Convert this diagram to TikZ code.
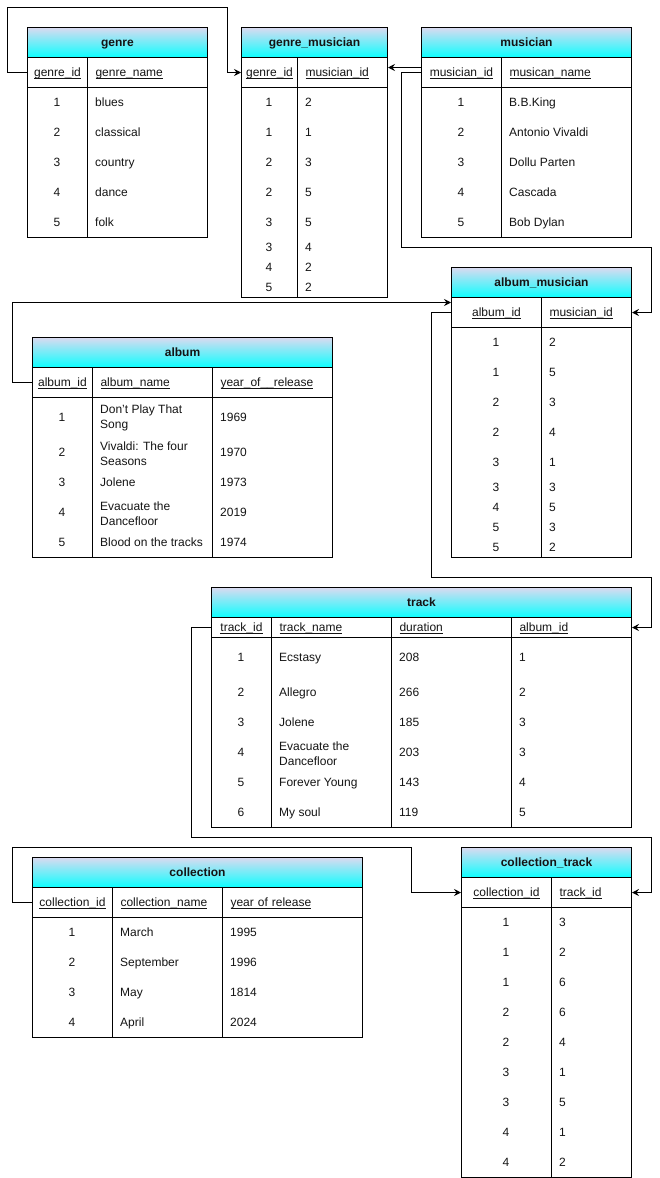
\documentclass[tikz,border=0pt]{standalone}
\usepackage{fontspec}
\setmainfont{Liberation Sans}
\usetikzlibrary{arrows.meta}
\definecolor{lav}{RGB}{218,218,240}
\definecolor{cyn}{RGB}{10,255,255}
\definecolor{txt}{RGB}{20,20,20}
\newcommand\ulname[1]{\setbox0\hbox{#1}\rlap{\rule[-1.8pt]{\wd0}{0.8pt}}\box0}
\tikzset{
 every node/.style={font=\fontsize{12}{14.4}\selectfont, text=txt},
 tline/.style={line width=1pt, draw=black},
 hdr/.style={draw=black, line width=1pt, top color=lav, bottom color=cyn, anchor=north west, minimum height=30pt, inner sep=0pt, font=\fontsize{12}{14.4}\selectfont\bfseries, text height=10.86pt, text depth=2.54pt},
 cname/.style={draw=black, line width=1pt, anchor=north west, inner ysep=0pt, text height=10.86pt, text depth=2.54pt},
 ctext/.style={anchor=center, text height=10.86pt, text depth=2.54pt},
 ltext/.style={anchor=west, text height=10.86pt, text depth=2.54pt, inner sep=0pt},
 mtext/.style={anchor=west, align=left, inner sep=0pt, yshift=-1.5pt, font=\fontsize{12}{15}\selectfont},
 conn/.style={line width=1pt, draw=black, -{Stealth[length=7pt,width=7pt,inset=2.5pt]}},
}
\newcommand\cnc[6]{\node[cname, inner xsep=2pt, minimum width=#4pt, minimum height=#5pt, align=center] (#1) at (#2,#3) {\ulname{#6}};}
\newcommand\cnl[6]{\pgfmathsetmacro\cntw{#4-16}\node[cname, inner xsep=8pt, minimum width=#4pt, minimum height=#5pt, text width=\cntw pt, align=left] (#1) at (#2,#3) {\ulname{#6}};}

\begin{document}
\begin{tikzpicture}[x=1pt,y=-1pt]
\useasboundingbox (0,0) rectangle (660,1178);

% ---------- genre ----------
\node[hdr, minimum width=180pt] (genre) at (27,27) {genre};
\cnc{g-c1}{27}{57}{60}{30}{genre\_id}
\cnl{g-c2}{87}{57}{120}{30}{genre\_name}
\draw[tline] (27,87) rectangle (207,237);
\draw[tline] (87,87) -- (87,237);
\foreach \id/\nm [count=\i] in {1/blues,2/classical,3/country,4/dance,5/folk}{
  \node[ctext] (g-\i-1) at (57,{72+30*\i}) {\id};
  \node[ltext] (g-\i-2) at (95,{72+30*\i}) {\nm};
}

% ---------- genre_musician ----------
\node[hdr, minimum width=146pt] (genremusician) at (241,27) {genre\_musician};
\cnc{gm-c1}{241}{57}{56}{30}{genre\_id}
\cnl{gm-c2}{297}{57}{90}{30}{musician\_id}
\draw[tline] (241,87) rectangle (387,297);
\draw[tline] (297,87) -- (297,297);
\foreach \yy/\a/\b [count=\i] in {102/1/2,132/1/1,162/2/3,192/2/5,222/3/5,247/3/4,267/4/2,287/5/2}{
  \node[ctext] (gm-\i-1) at (269,\yy) {\a};
  \node[ltext] (gm-\i-2) at (305,\yy) {\b};
}

% ---------- musician ----------
\node[hdr, minimum width=210pt] (musician) at (421,27) {musician};
\cnc{m-c1}{421}{57}{80}{30}{musician\_id}
\cnl{m-c2}{501}{57}{130}{30}{musican\_name}
\draw[tline] (421,87) rectangle (631,237);
\draw[tline] (501,87) -- (501,237);
\foreach \id/\nm [count=\i] in {1/B.B.King,2/Antonio Vivaldi,3/Dollu Parten,4/Cascada,5/Bob Dylan}{
  \node[ctext] (m-\i-1) at (461,{72+30*\i}) {\id};
  \node[ltext] (m-\i-2) at (509,{72+30*\i}) {\nm};
}

% ---------- album_musician ----------
\node[hdr, minimum width=180pt] (albummusician) at (451,267) {album\_musician};
\cnc{am-c1}{451}{297}{90}{30}{album\_id}
\cnl{am-c2}{541}{297}{90}{30}{musician\_id}
\draw[tline] (451,327) rectangle (631,557);
\draw[tline] (541,327) -- (541,557);
\foreach \yy/\a/\b [count=\i] in {342/1/2,372/1/5,402/2/3,432/2/4,462/3/1,487/3/3,507/4/5,527/5/3,547/5/2}{
  \node[ctext] (am-\i-1) at (496,\yy) {\a};
  \node[ltext] (am-\i-2) at (549,\yy) {\b};
}

% ---------- album ----------
\node[hdr, minimum width=300pt] (album) at (32,337) {album};
\cnc{a-c1}{32}{367}{60}{30}{album\_id}
\cnl{a-c2}{92}{367}{120}{30}{album\_name}
\cnl{a-c3}{212}{367}{120}{30}{year\_of\_\_release}
\draw[tline] (32,397) rectangle (332,557);
\draw[tline] (92,397) -- (92,557);
\draw[tline] (212,397) -- (212,557);
\node[ctext] (a-1-1) at (62,417) {1};
\node[mtext] (a-1-2) at (100,416) {Don't Play That\\Song};
\node[ltext] (a-1-3) at (220,417) {1969};
\node[ctext] (a-2-1) at (62,452) {2};
\node[mtext] (a-2-2) at (100,452) {Vivaldi: The four\\Seasons};
\node[ltext] (a-2-3) at (220,452) {1970};
\node[ctext] (a-3-1) at (62,482) {3};
\node[ltext] (a-3-2) at (100,482) {Jolene};
\node[ltext] (a-3-3) at (220,482) {1973};
\node[ctext] (a-4-1) at (62,512) {4};
\node[mtext] (a-4-2) at (100,512) {Evacuate the\\Dancefloor};
\node[ltext] (a-4-3) at (220,512) {2019};
\node[ctext] (a-5-1) at (62,542) {5};
\node[ltext] (a-5-2) at (100,542) {Blood on the tracks};
\node[ltext] (a-5-3) at (220,542) {1974};

% ---------- track ----------
\node[hdr, minimum width=420pt] (track) at (211,587) {track};
\cnc{t-c1}{211}{617}{60}{20}{track\_id}
\cnl{t-c2}{271}{617}{120}{20}{track\_name}
\cnl{t-c3}{391}{617}{120}{20}{duration}
\cnl{t-c4}{511}{617}{120}{20}{album\_id}
\draw[tline] (211,637) rectangle (631,827);
\draw[tline] (271,637) -- (271,827);
\draw[tline] (391,637) -- (391,827);
\draw[tline] (511,637) -- (511,827);
\foreach \yy/\a/\b/\c/\d [count=\i] in {657/1/Ecstasy/208/1,692/2/Allegro/266/2,722/3/Jolene/185/3,782/5/Forever Young/143/4,812/6/My soul/119/5}{
  \node[ctext] (t-\i-1) at (241,\yy) {\a};
  \node[ltext] (t-\i-2) at (279,\yy) {\b};
  \node[ltext] (t-\i-3) at (399,\yy) {\c};
  \node[ltext] (t-\i-4) at (519,\yy) {\d};
}
\node[ctext] (t-4-1) at (241,752) {4};
\node[mtext] (t-4-2) at (279,752) {Evacuate the\\Dancefloor};
\node[ltext] (t-4-3) at (399,752) {203};
\node[ltext] (t-4-4) at (519,752) {3};

% ---------- collection ----------
\node[hdr, minimum width=330pt] (collection) at (32,857) {collection};
\cnc{c-c1}{32}{887}{80}{30}{collection\_id}
\cnl{c-c2}{112}{887}{110}{30}{collection\_name}
\cnl{c-c3}{222}{887}{140}{30}{year of release}
\draw[tline] (32,917) rectangle (362,1037);
\draw[tline] (112,917) -- (112,1037);
\draw[tline] (222,917) -- (222,1037);
\foreach \a/\b/\c [count=\i] in {1/March/1995,2/September/1996,3/May/1814,4/April/2024}{
  \node[ctext] (c-\i-1) at (72,{902+30*\i}) {\a};
  \node[ltext] (c-\i-2) at (120,{902+30*\i}) {\b};
  \node[ltext] (c-\i-3) at (230,{902+30*\i}) {\c};
}

% ---------- collection_track ----------
\node[hdr, minimum width=170pt] (collectiontrack) at (461,847) {collection\_track};
\cnc{ct-c1}{461}{877}{90}{30}{collection\_id}
\cnl{ct-c2}{551}{877}{80}{30}{track\_id}
\draw[tline] (461,907) rectangle (631,1177);
\draw[tline] (551,907) -- (551,1177);
\foreach \a/\b [count=\i] in {1/3,1/2,1/6,2/6,2/4,3/1,3/5,4/1,4/2}{
  \node[ctext] (ct-\i-1) at (506,{892+30*\i}) {\a};
  \node[ltext] (ct-\i-2) at (559,{892+30*\i}) {\b};
}

% ---------- connectors ----------
\draw[conn] (g-c1.west) -- ++(-20,0) -- ++(0,-65) -- ++(220,0) |- (gm-c1.west);
\draw[conn] ([yshift=5pt]m-c1.west) -- ([yshift=5pt]gm-c2.east);
\draw[conn] (m-c1.west) -- ++(-20,0) -- ++(0,175) -- ++(250,0) |- (am-c2.east);
\draw[conn] (a-c1.west) -- ++(-20,0) |- ([yshift=10pt]am-c1.west);
\draw[conn] (am-c1.west) -- ++(-20,0) -- ++(0,265) -- ++(220,0) |- (t-c4.east);
\draw[conn] (t-c1.west) -- ++(-20,0) -- ++(0,210) -- ++(460,0) |- (ct-c2.east);
\draw[conn] (c-c1.west) -- ++(-20,0) -- ++(0,-55) -- ++(399,0) |- (ct-c1.west);
\end{tikzpicture}
\end{document}
